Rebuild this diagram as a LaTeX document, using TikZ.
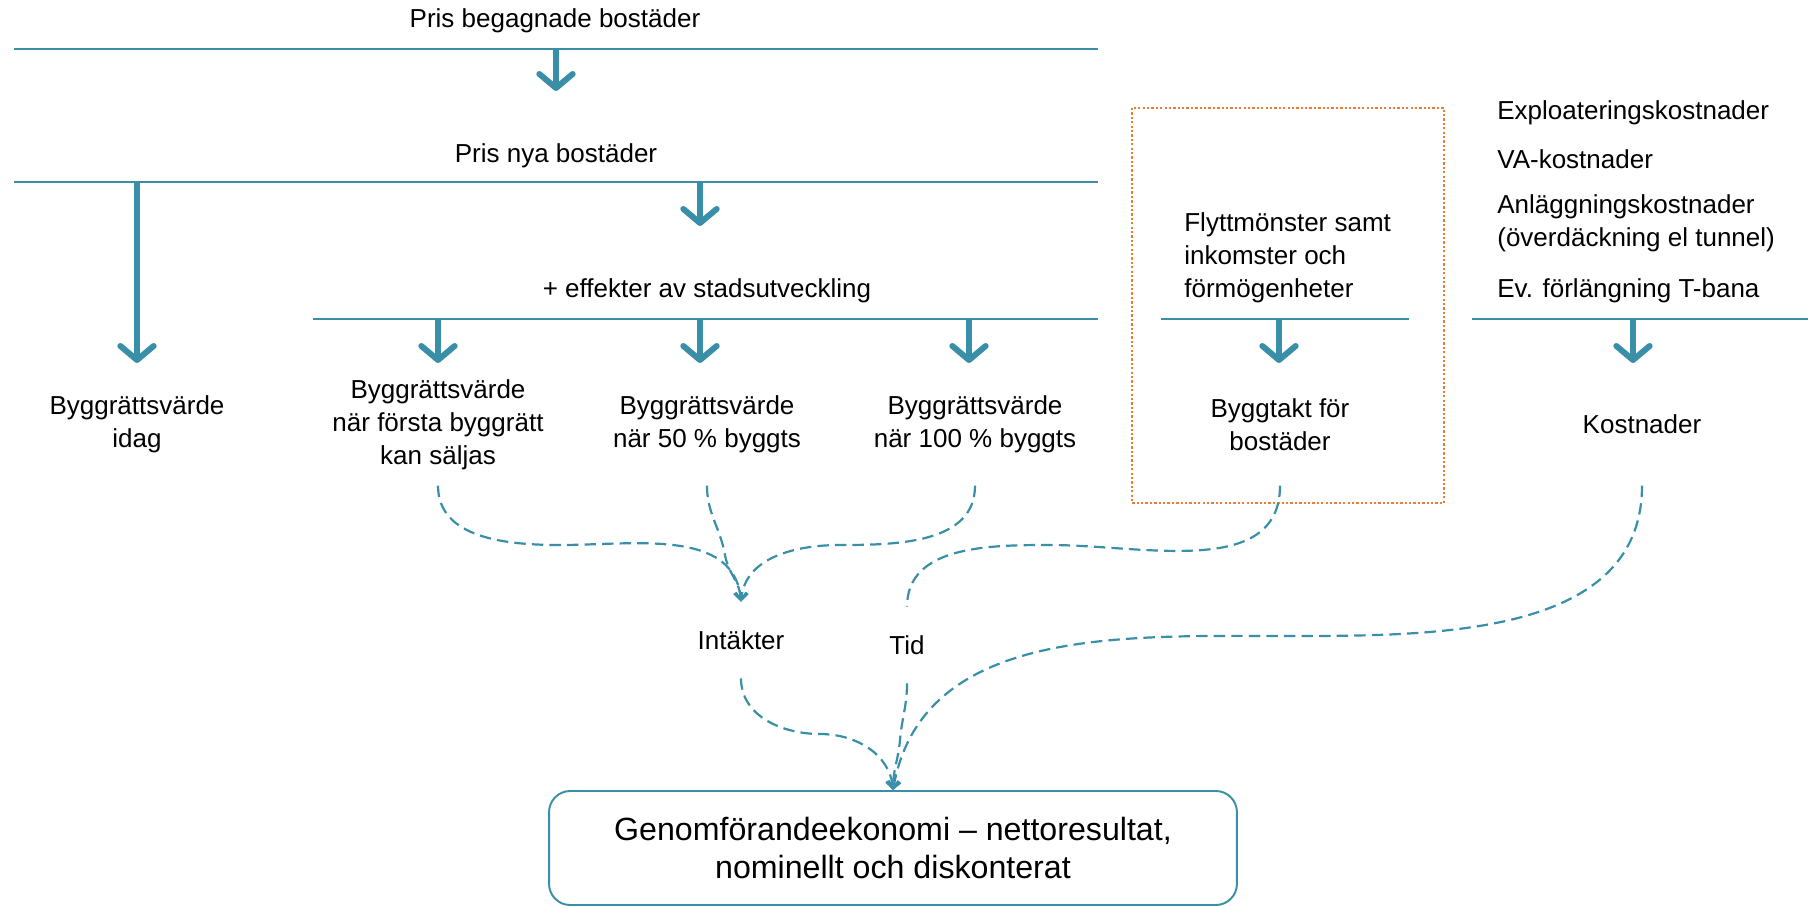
\documentclass[tikz,border=0pt]{standalone}
\usepackage{fontspec}
\setmainfont{Liberation Sans}
\usetikzlibrary{arrows.meta}
\definecolor{petrol}{RGB}{56,143,167}
\definecolor{orangebox}{RGB}{237,125,49}
\tikzset{
  lbl/.style={font=\fontsize{14.8}{18.8}\selectfont, align=center, inner sep=0pt},
  head/.style={lbl, anchor=north, minimum height=2.56cm},
  val/.style={lbl, anchor=north, minimum height=2.44cm},
  sum/.style={lbl, minimum height=1.52cm},
  bar/.style={petrol, line width=0.8pt},
  thick arrow/.style={petrol, line width=3.4pt, -{Straight Barb[length=8pt, width=19pt, round]}},
  flow/.style={petrol, line width=1.25pt, dash pattern=on 6.5pt off 3.5pt},
  flowtip/.style={flow, -{Straight Barb[length=4pt, width=7pt]}},
}
\begin{document}
\begin{tikzpicture}[x=0.02cm, y=-0.02cm]
    \useasboundingbox (0,0) rectangle (1820,907);
    \node[lbl] (begagnade) at (555,21) {Pris begagnade bostäder};
    \draw[bar] (14,49) -- (1098,49);
    \coordinate (b1) at (556,49);
    \node[head] (nya) at (556,91) {Pris nya bostäder};
    \draw[thick arrow] (b1) -- (nya.north);
    \draw[bar] (14,182) -- (1098,182);
    \coordinate (b2a) at (137,182);
    \coordinate (b2b) at (700,182);
    \node[head] (effekter) at (707,226) {+ effekter av stadsutveckling};
    \draw[thick arrow] (b2b) -- (effekter.north -| b2b);
    \draw[bar] (313,319) -- (1098,319);
    \coordinate (b3a) at (438,319);
    \coordinate (b3b) at (700,319);
    \coordinate (b3c) at (969,319);
    \node[val] (idag) at (137,363) {Byggrättsvärde\\idag};
    \node[val] (forsta) at (438,363) {Byggrättsvärde\\när första byggrätt\\kan säljas};
    \node[val] (halv) at (707,363) {Byggrättsvärde\\när 50 \% byggts};
    \node[val] (hel) at (975,363) {Byggrättsvärde\\när 100 \% byggts};
    \draw[thick arrow] (b2a) -- (idag.north);
    \draw[thick arrow] (b3a) -- (forsta.north);
    \draw[thick arrow] (b3b) -- (halv.north -| b3b);
    \draw[thick arrow] (b3c) -- (hel.north -| b3c);

    \draw[orangebox, line width=1.5pt, dash pattern=on 1.3pt off 1.2pt] (1132,108) rectangle (1444,503);
    \node[lbl, align=left, anchor=west] (flytt) at (1184,258) {Flyttmönster samt\\inkomster och\\förmögenheter};
    \draw[bar] (1161,319) -- (1409,319);
    \coordinate (b4) at (1279,319);
    \node[val] (byggtakt) at (1280,363) {Byggtakt för\\bostäder};
    \draw[thick arrow] (b4) -- (byggtakt.north -| b4);

    \node[lbl, anchor=west] (expl) at (1497,113) {Exploateringskostnader};
    \node[lbl, anchor=west] (va) at (1497,159) {VA-kostnader};
    \node[lbl, align=left, anchor=west] (anl) at (1497,223.5) {Anläggningskostnader\\(överdäckning el tunnel)};
    \node[lbl, anchor=west] (tbana) at (1497,291) {Ev. förlängning T-bana};
    \draw[bar] (1472,319) -- (1808,319);
    \coordinate (b5) at (1633,319);
    \node[val] (kostnader) at (1642,363) {Kostnader};
    \draw[thick arrow] (b5) -- (kostnader.north -| b5);

    \node[sum] (intakter) at (741,640) {Intäkter};
    \node[sum] (tid) at (907,645) {Tid};
    \node[draw=petrol, line width=1.1pt, rounded corners=12pt, minimum width=13.76cm, minimum height=2.28cm,
      font=\fontsize{18.3}{21.6}\selectfont, align=center] (resultat) at (893,848)
      {Genomförandeekonomi – nettoresultat,\\nominellt och diskonterat};

    \draw[flowtip] (forsta.south) to[out=-90, in=180] (560,545) to[out=0, in=95] (intakter.north);
    \draw[flowtip] (halv.south) to[out=-90, in=100] (725,555) to[out=-80, in=92] (intakter.north);
    \draw[flowtip] (hel.south) to[out=-90, in=0] (840,545) to[out=180, in=85] (intakter.north);
    \draw[flow] (byggtakt.south) to[out=-90, in=0] (1050,545) to[out=180, in=90] (tid.north);
    \draw[flowtip] (intakter.south) to[out=-90, in=180] (820,734) to[out=0, in=95] (resultat.north);
    \draw[flowtip] (tid.south) to[out=-90, in=85] (900,740) to[out=-95, in=90] (resultat.north);
    \draw[flowtip] (kostnader.south) to[out=-90, in=0] (1290,636) to[out=180, in=80] (resultat.north);
  \end{tikzpicture}
\end{document}
